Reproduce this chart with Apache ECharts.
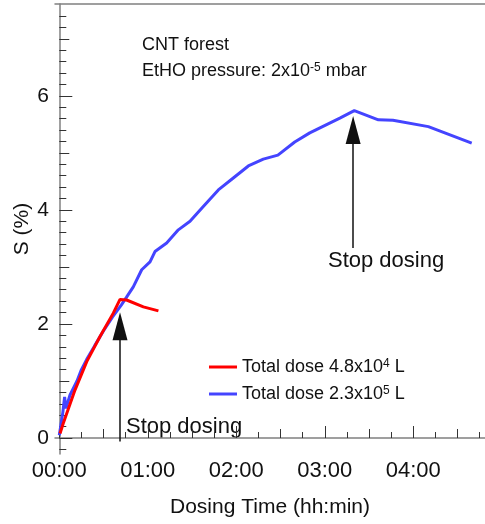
<!DOCTYPE html>
<html>
<head>
<meta charset="utf-8">
<script src="https://cdn.jsdelivr.net/npm/echarts@6/dist/echarts.min.js"></script>
<style>
html, body { margin: 0; padding: 0; background: #fff; }
#chart { width: 485px; height: 524px; }
</style>
</head>
<body>
<div id="chart"></div>
<script>
// dosing time in hours, S in %
var redTime = [0.008, 0.045, 0.177, 0.31, 0.46, 0.61, 0.686, 0.76, 0.95, 1.12];
var redS    = [0.08, 0.26, 0.84, 1.34, 1.78, 2.19, 2.43, 2.42, 2.30, 2.23];

var blueTime = [0.0, 0.04, 0.06, 0.075, 0.12, 0.2, 0.25, 0.31, 0.4, 0.5, 0.6, 0.7, 0.76, 0.836,
                0.931, 1.025, 1.081, 1.213, 1.345, 1.477, 1.627, 1.797, 1.966, 2.136, 2.305,
                2.47, 2.66, 2.83, 3.17, 3.333, 3.605, 3.77, 4.17, 4.66];
var blueS    = [0.05, 0.45, 0.72, 0.52, 0.75, 1.0, 1.2, 1.38, 1.62, 1.88, 2.12, 2.33, 2.47, 2.65,
                2.95, 3.09, 3.27, 3.42, 3.65, 3.80, 4.06, 4.35, 4.56, 4.77, 4.89,
                4.96, 5.19, 5.35, 5.61, 5.74, 5.58, 5.57, 5.46, 5.17];

var seriesNames = ['Total dose 4.8x10{sup|4} L', 'Total dose 2.3x10{sup|5} L'];

// tick positions
var xMajorTicks = [0, 1, 2, 3, 4];
var xHalfTicks = [0.5, 1.5, 2.5, 3.5, 4.5];
var xQuarterTicks = [0.25, 0.75, 1.25, 1.75, 2.25, 2.75, 3.25, 3.75, 4.25, 4.75];
var yMajorTicks = [0, 2, 4, 6];
var yOddTicks = [1, 3, 5, 7];
var yMinorTicks = [];
for (var k = -1; k <= 37; k++) {
    if (k % 5 !== 0) yMinorTicks.push(+(k * 0.2).toFixed(1));
}

// "stop dosing" arrows: [time, yFrom, yTo(head centre)]
var stopArrows = [[0.686, -0.06, 1.96], [3.32, 3.33, 5.40]];

var xMin = -0.0486, xMax = 4.81;
var yMin = -0.28, yMax = 7.61;

var FONT = 'Liberation Sans, Arial, Helvetica, sans-serif';
var AXIS_GRAY = '#808080';
var TICK_COL = '#333';

function zip(a, b) {
    var out = [];
    for (var i = 0; i < a.length; i++) out.push([a[i], b[i]]);
    return out;
}
function hhmm(v) {
    var h = Math.floor(v), m = Math.round((v - h) * 60);
    return (h < 10 ? '0' : '') + h + ':' + (m < 10 ? '0' : '') + m;
}

function tickAxis(pos, vals, len, extra) {
    var ax = {
        type: 'value',
        position: pos,
        axisLine: { show: false },
        axisTick: { show: true, inside: true, length: len, customValues: vals,
                    lineStyle: { color: TICK_COL, width: 1 } },
        axisLabel: { show: false },
        splitLine: { show: false }
    };
    for (var key in extra) ax[key] = extra[key];
    return ax;
}

var myChart = echarts.init(document.getElementById('chart'));

var arrowData = [];
for (var a = 0; a < stopArrows.length; a++) {
    arrowData.push([{ coord: [stopArrows[a][0], stopArrows[a][1]] },
                    { coord: [stopArrows[a][0], stopArrows[a][2]] }]);
}

var option = {
    animation: false,
    textStyle: { fontFamily: FONT },
    grid: { left: 55, top: 4, right: 0, bottom: 70, containLabel: false, outerBoundsMode: 'none' },
    legend: {
        data: [seriesNames[0], seriesNames[1]],
        orient: 'vertical',
        left: 204,
        top: 353,
        itemWidth: 28,
        itemHeight: 3,
        itemGap: 9,
        icon: 'rect',
        textStyle: {
            fontFamily: FONT, fontSize: 18, color: '#111',
            rich: { sup: { fontSize: 12, verticalAlign: 'top', padding: [0, 0, 3, 0], fontFamily: FONT, color: '#111' } }
        }
    },
    xAxis: [
        {
            type: 'value', position: 'bottom', min: xMin, max: xMax,
            name: 'Dosing Time (hh:min)', nameLocation: 'middle', nameGap: 43,
            nameTextStyle: { fontSize: 21, color: '#111', fontFamily: FONT },
            axisLine: { show: true, lineStyle: { color: AXIS_GRAY, width: 1.5 } },
            axisTick: { show: true, inside: true, length: 12, customValues: xMajorTicks,
                        lineStyle: { color: TICK_COL, width: 1 } },
            axisLabel: { customValues: xMajorTicks, formatter: hhmm, fontSize: 22, color: '#111',
                         margin: 6, fontFamily: FONT },
            splitLine: { show: false }
        },
        tickAxis('bottom', xHalfTicks, 9, { min: xMin, max: xMax }),
        tickAxis('bottom', xQuarterTicks, 6, { min: xMin, max: xMax }),
        {
            type: 'value', position: 'top', min: xMin, max: xMax,
            axisLine: { show: true, lineStyle: { color: AXIS_GRAY, width: 1.5 } },
            axisTick: { show: false }, axisLabel: { show: false }, splitLine: { show: false }
        }
    ],
    yAxis: [
        {
            type: 'value', position: 'left', min: yMin, max: yMax,
            name: 'S (%)', nameLocation: 'middle', nameGap: 22, nameRotate: 90,
            nameMoveOverlap: false,
            nameTextStyle: { fontSize: 21, color: '#111', fontFamily: FONT },
            axisLine: { show: true, lineStyle: { color: AXIS_GRAY, width: 1.5 } },
            axisTick: { show: true, inside: true, length: 13, customValues: yMajorTicks,
                        lineStyle: { color: TICK_COL, width: 1 } },
            axisLabel: { customValues: yMajorTicks, fontSize: 21, color: '#111', margin: 6, fontFamily: FONT },
            splitLine: { show: false }
        },
        tickAxis('left', yOddTicks, 10, { min: yMin, max: yMax }),
        tickAxis('left', yMinorTicks, 7, { min: yMin, max: yMax })
    ],
    series: [
        {
            name: seriesNames[1], type: 'line', data: zip(blueTime, blueS),
            showSymbol: false, symbol: 'none', color: '#4444ff',
            lineStyle: { color: '#4444ff', width: 3 }, z: 2,
            markLine: {
                silent: true,
                symbol: ['none', 'triangle'],
                symbolSize: [15, 28],
                label: { show: false },
                lineStyle: { color: '#111', width: 1.5, type: 'solid' },
                data: arrowData
            }
        },
        {
            name: seriesNames[0], type: 'line', data: zip(redTime, redS),
            showSymbol: false, symbol: 'none', color: '#ff0000',
            lineStyle: { color: '#ff0000', width: 3 }, z: 3
        }
    ],
    graphic: [
        { type: 'text', left: 142, top: 36, style: { text: 'CNT forest', font: '18px ' + FONT, fill: '#111' } },
        { type: 'text', left: 142, top: 62, style: {
            text: 'EtHO pressure: 2x10{sup|-5} mbar', font: '18px ' + FONT, fill: '#111',
            rich: { sup: { fontSize: 12, verticalAlign: 'top', padding: [0, 0, 3, 0], fontFamily: FONT, fill: '#111' } } } },
        { type: 'text', left: 126, top: 416, style: { text: 'Stop dosing', font: '22px ' + FONT, fill: '#111' } },
        { type: 'text', left: 328, top: 250, style: { text: 'Stop dosing', font: '22px ' + FONT, fill: '#111' } }
    ]
};

myChart.setOption(option);
</script>
</body>
</html>
